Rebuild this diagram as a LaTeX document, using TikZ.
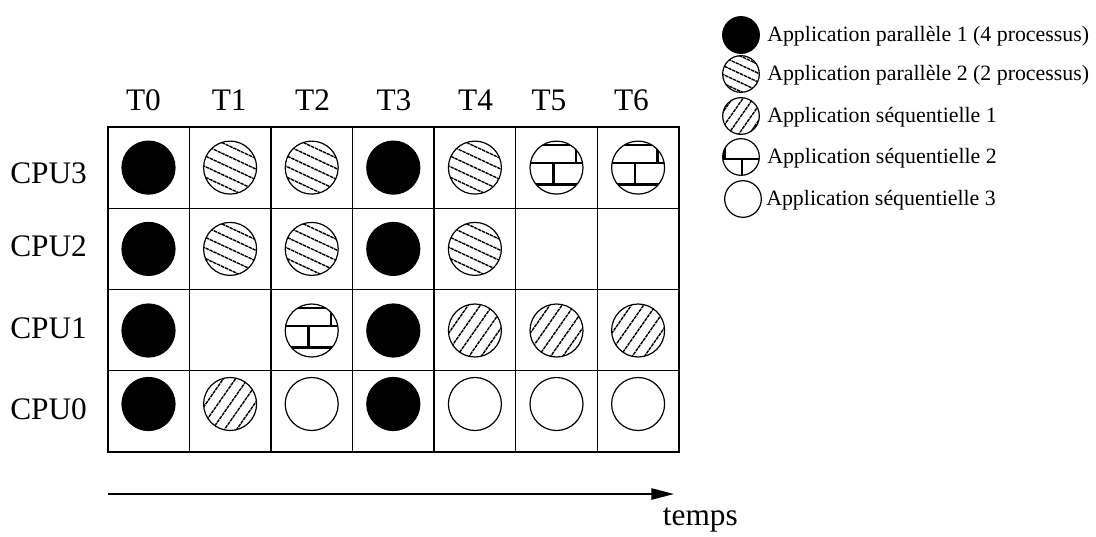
\documentclass[tikz,border=0pt]{standalone}
\usepackage{fontspec}
\setmainfont{Liberation Serif}
\usetikzlibrary{arrows.meta}
\newcommand\hatchfillx[2]{%
  \begin{scope}[shift={(path picture bounding box.center)}]
    \pgfmathsetmacro\hdx{cos(#1)}%
    \pgfmathsetmacro\hdy{sin(#1)}%
    \foreach \k in {-5,...,5}{%
      \draw[hatchline] ({\k*#2*(-\hdy)+45*\hdx},{\k*#2*\hdx+45*\hdy}) --
                       ({\k*#2*(-\hdy)-45*\hdx},{\k*#2*\hdx-45*\hdy});}
  \end{scope}}
\begin{document}
\begin{tikzpicture}[x=0.75pt,y=-0.75pt,
  proc/.style={circle,draw,line width=0.9pt,inner sep=0pt,minimum size=39.75pt},
  lproc/.style={circle,draw,line width=0.9pt,inner sep=0pt,minimum size=27.5pt},
  pone/.style={fill=black},
  hatchline/.style={line width=1.05pt,dash pattern=on 2.6pt off 0.6pt},
  ptwo/.style={path picture={\hatchfillx{25}{9.6}}},
  lptwo/.style={path picture={\hatchfillx{25}{8}}},
  sone/.style={path picture={\hatchfillx{-55}{10}}},
  lsone/.style={path picture={\hatchfillx{-55}{8.5}}},
  stwo/.style={path picture={\begin{scope}[shift={(path picture bounding box.center)}]
     \draw[line width=1.9pt] (-40,-22.5) -- (40,-22.5) (-40,-4.5) -- (40,-4.5) (-40,17) -- (40,17)
        (19.5,-30) -- (19.5,-4.5) (-3,-4.5) -- (-3,17) (19.5,17) -- (19.5,40);
     \end{scope}}},
  ltwo/.style={path picture={\begin{scope}[shift={(path picture bounding box.center)}]
     \draw[line width=1.9pt] (-30,2) -- (30,2) (1,2) -- (1,30) (-16.5,-30) -- (-16.5,2);
     \end{scope}}},
  lab/.style={font=\fontsize{23.5}{28}\selectfont,inner sep=0pt},
  legtext/.style={font=\fontsize{16.4}{19}\selectfont,inner sep=0pt,anchor=base west},
  gridout/.style={line width=1.4pt},
  gridin/.style={line width=1.1pt}
]
\useasboundingbox (0,0) rectangle (1096,536);

% grid
\draw[gridin] \foreach \i in {1,...,6} {(107.7+81.59*\i,127) -- ++(0,325)};
\draw[gridin] \foreach \j in {1,2,3} {(107.7,127+81.25*\j) -- ++(571.1,0)};
\draw[gridout] (107.7,127) rectangle (678.8,452);

% column labels
\node[lab,anchor=base] (t0) at (143.5,110.7) {T0};
\node[lab,anchor=base] (t1) at (229.2,110.7) {T1};
\node[lab,anchor=base] (t2) at (312.6,110.7) {T2};
\node[lab,anchor=base] (t3) at (394.0,110.7) {T3};
\node[lab,anchor=base] (t4) at (475.6,110.7) {T4};
\node[lab,anchor=base] (t5) at (549.0,110.7) {T5};
\node[lab,anchor=base] (t6) at (631.5,110.7) {T6};

% row labels
\node[lab,anchor=base west] (r3) at (10,183.3) {CPU3};
\node[lab,anchor=base west] (r2) at (10,256.7) {CPU2};
\node[lab,anchor=base west] (r1) at (10,338.3) {CPU1};
\node[lab,anchor=base west] (r0) at (10,419.3) {CPU0};

% CPU3
\node[proc,pone] (c3t0) at (148.5,167.6) {};
\node[proc,ptwo] (c3t1) at (230.1,167.6) {};
\node[proc,ptwo] (c3t2) at (311.7,167.6) {};
\node[proc,pone] (c3t3) at (393.3,167.6) {};
\node[proc,ptwo] (c3t4) at (474.9,167.6) {};
\node[proc,stwo] (c3t5) at (556.5,167.6) {};
\node[proc,stwo] (c3t6) at (638.1,167.6) {};
% CPU2
\node[proc,pone] (c2t0) at (148.5,248.9) {};
\node[proc,ptwo] (c2t1) at (230.1,248.9) {};
\node[proc,ptwo] (c2t2) at (311.7,248.9) {};
\node[proc,pone] (c2t3) at (393.3,248.9) {};
\node[proc,ptwo] (c2t4) at (474.9,248.9) {};
% CPU1
\node[proc,pone] (c1t0) at (148.5,330.5) {};
\node[proc,stwo] (c1t2) at (311.7,330.5) {};
\node[proc,pone] (c1t3) at (393.3,330.5) {};
\node[proc,sone] (c1t4) at (474.9,330.5) {};
\node[proc,sone] (c1t5) at (556.5,330.5) {};
\node[proc,sone] (c1t6) at (638.1,330.5) {};
% CPU0
\node[proc,pone] (c0t0) at (148.5,404) {};
\node[proc,sone] (c0t1) at (230.1,404) {};
\node[proc] (c0t2) at (311.7,404) {};
\node[proc,pone] (c0t3) at (393.3,404) {};
\node[proc] (c0t4) at (474.9,404) {};
\node[proc] (c0t5) at (556.5,404) {};
\node[proc] (c0t6) at (638.1,404) {};

% time arrow
\coordinate (ta) at (107.7,494);
\coordinate (tb) at (674,494);
\draw[line width=1.1pt,-{Triangle[length=17pt,width=8.5pt]}] (ta) -- (tb);
\node[lab,anchor=base west] (temps) at (662.7,525) {temps};

% legend
\node[lproc,pone] (l1) at (741,35) {};
\node[legtext] (lt1) at (767,41.5) {Application parallèle 1 (4 processus)};
\node[lproc,lptwo] (l2) at (741,74) {};
\node[legtext] (lt2) at (767,80.5) {Application parallèle 2 (2 processus)};
\node[lproc,lsone] (l3) at (741,116) {};
\node[legtext] (lt3) at (767,122.5) {Application séquentielle 1};
\node[lproc,ltwo] (l4) at (741,157) {};
\node[legtext] (lt4) at (767,163.5) {Application séquentielle 2};
\node[lproc] (l5) at (743,199) {};
\node[legtext] (lt5) at (766,205.5) {Application séquentielle 3};
\end{tikzpicture}
\end{document}
